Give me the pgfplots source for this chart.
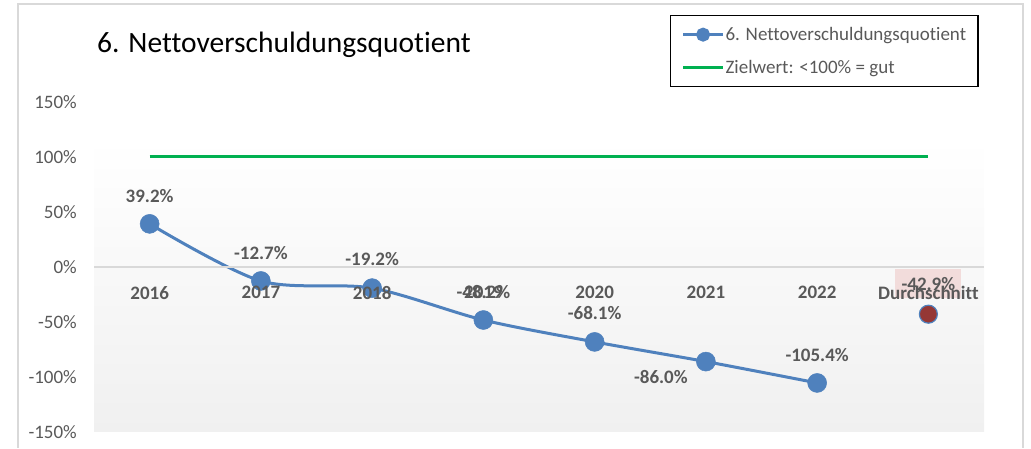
\documentclass[border=0pt]{standalone}
\usepackage{pgfplots}
\pgfplotsset{compat=1.18}
\usepackage{fontspec}
\setmainfont{Carlito}[Ligatures=NoCommon]
\definecolor{txt}{RGB}{89,89,89}
\definecolor{ser}{RGB}{79,129,189}
\definecolor{grn}{RGB}{0,176,80}
\definecolor{avg}{RGB}{149,55,53}
\definecolor{pinkbox}{RGB}{242,220,219}
\definecolor{bgb}{RGB}{240,240,240}
\definecolor{framec}{RGB}{217,217,217}
\pgfplotsset{set layers}
\newcommand{\fs}{\fontsize{19bp}{23bp}\selectfont}
\begin{document}
\begin{tikzpicture}[x=1bp,y=1bp]
\path (0,0) rectangle (1031,448);
\draw[framec, line width=1.2bp] (18,0) -- (18,444) -- (1023,444) -- (1023,0);
\node[anchor=base west, font=\fontsize{29.5bp}{34bp}\selectfont, text=black, inner sep=0] at (97,395) {6. Nettoverschuldungsquotient};
\begin{axis}[
  at={(94bp,16bp)}, anchor=south west, scale only axis,
  width=890bp, height=330bp,
  xmin=-0.5, xmax=7.5, ymin=-150, ymax=150,
  clip=false, axis on top,
  axis x line=middle, axis y line=left,
  hide obscured x ticks=false, hide obscured y ticks=false,
  x axis line style={-, draw=framec, line width=1.5bp},
  y axis line style={draw=none},
  major tick length=0,
  xtick={0,...,7},
  xticklabels={2016,2017,2018,2019,2020,2021,2022,Durchschnitt},
  xticklabel style={font=\fs\bfseries, text=txt, anchor=north, inner sep=0, yshift=-19bp},
  ytick={-150,-100,...,150},
  yticklabel={\pgfmathprintnumber[fixed,precision=0]{\tick}\%},
  yticklabel style={font=\fs, text=txt, anchor=east, inner sep=0, xshift=-17bp},
  /pgf/number format/assume math mode=true,
  legend style={at={(0.647,1.265)}, anchor=north west, draw=black, line width=1.5bp,
    fill=white, font=\fs, text=txt, inner xsep=11bp, inner ysep=11bp, row sep=16bp,
    nodes={inner sep=1bp}},
  legend cell align=left,
  legend image code/.code={\draw[mark repeat=2, mark phase=2, #1] plot coordinates {(0bp,0bp) (20bp,0bp) (40bp,0bp)};},
]
\begin{pgfonlayer}{axis background}
\shade[top color=white, bottom color=bgb] (axis cs:-0.5,-150) rectangle (axis cs:7.5,116.4);
\end{pgfonlayer}
\addlegendimage{ser, line width=3bp, mark=*, mark size=5.5bp, mark options={fill=ser, draw=ser}}
\addlegendentry{6. Nettoverschuldungsquotient}
\addlegendimage{grn, line width=3bp}
\addlegendentry{Zielwert: <100\% = gut}
\addplot[grn, line width=3bp, forget plot] coordinates {(0,100) (7,100)};
\addplot[ser, line width=3bp, smooth, tension=0.5, forget plot,
  mark=*, mark size=9.5bp, mark options={fill=ser, draw=ser, line width=0.5bp},
  point meta=\thisrow{y},
  visualization depends on={\thisrow{dx} \as \dx},
  visualization depends on={\thisrow{dy} \as \dy},
  nodes near coords={\pgfmathprintnumber[fixed, fixed zerofill, precision=1]{\pgfplotspointmeta}\%},
  every node near coord/.append style={anchor=center, xshift=\dx bp, yshift=\dy bp, font=\fs\bfseries, text=txt, inner sep=0},
] table {
x y dx dy
0 39.2 0 28
1 -12.7 0 28
2 -19.2 0 29
3 -48.2 0 28
4 -68.1 0 29
5 -86.0 -45 -15
6 -105.4 0 28
};
\addplot[only marks, forget plot, mark=*, mark size=9bp, mark options={fill=avg, draw=ser, line width=1.2bp},
  point meta=\thisrow{y},
  nodes near coords={\pgfmathprintnumber[fixed, fixed zerofill, precision=1]{\pgfplotspointmeta}\%},
  every node near coord/.append style={anchor=center, yshift=30.5bp, font=\fs\bfseries, text=txt, fill=pinkbox, inner sep=0, minimum width=66bp, minimum height=29bp},
] table {
x y
7 -42.9
};
\end{axis}
\end{tikzpicture}
\end{document}
